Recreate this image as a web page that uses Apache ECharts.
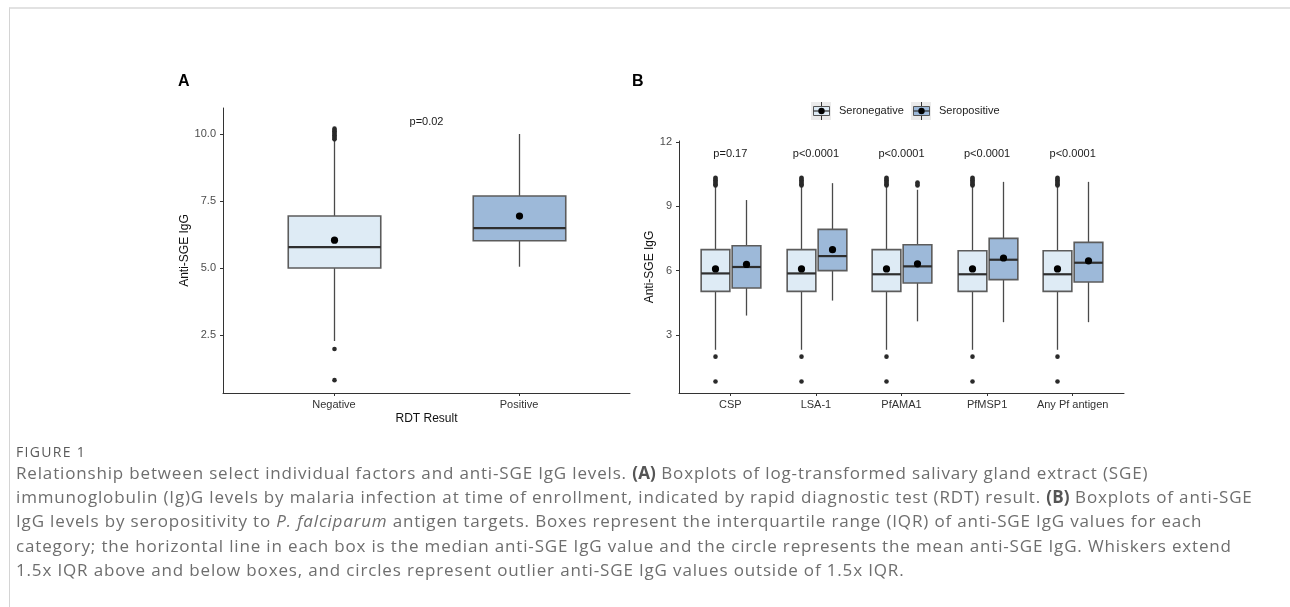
<!DOCTYPE html>
<html>
<head>
<meta charset="utf-8">
<script src="https://cdn.jsdelivr.net/npm/echarts@6/dist/echarts.min.js"></script>
<style>
html,body{margin:0;padding:0;background:#fff;}
#wrap{position:relative;width:1290px;height:607px;overflow:hidden;background:#fff;}
#frame{position:absolute;left:9px;top:7px;right:-5px;bottom:-5px;border-top:2px solid #e2e2e2;border-left:1px solid #d4d4d4;}
#chart{position:absolute;left:0;top:0;width:1290px;height:607px;}
#cap{position:absolute;left:16px;top:0;font-family:"Open Sans",sans-serif;color:#6e6e6e;}
#cap .fig{position:absolute;left:0;top:444px;font-size:14px;line-height:16px;letter-spacing:1.3px;white-space:nowrap;color:#5a5a5a;}
#cap .ln{position:absolute;left:0;font-size:17px;letter-spacing:0.84px;line-height:24px;height:24px;white-space:nowrap;}
#cap b{font-weight:700;color:#555;letter-spacing:0.2px;}
</style>
</head>
<body>
<div id="wrap">
  <div id="frame"></div>
  <div id="chart"></div>
  <div id="cap">
    <div class="fig">FIGURE 1</div>
    <div class="ln" style="top:461px">Relationship between select individual factors and anti-SGE IgG levels. <b>(A)</b> Boxplots of log-transformed salivary gland extract (SGE)</div>
    <div class="ln" style="top:485px">immunoglobulin (Ig)G levels by malaria infection at time of enrollment, indicated by rapid diagnostic test (RDT) result. <b>(B)</b> Boxplots of anti-SGE</div>
    <div class="ln" style="top:509px">IgG levels by seropositivity to <i>P. falciparum</i> antigen targets. Boxes represent the interquartile range (IQR) of anti-SGE IgG values for each</div>
    <div class="ln" style="top:534px">category; the horizontal line in each box is the median anti-SGE IgG value and the circle represents the mean anti-SGE IgG. Whiskers extend</div>
    <div class="ln" style="top:558px">1.5x IQR above and below boxes, and circles represent outlier anti-SGE IgG values outside of 1.5x IQR.</div>
  </div>
</div>
<script>
// ---------------- Panel A data ----------------
const catA = ['Negative', 'Positive'];
const aLo   = [2.28, 5.05];
const aQ1   = [5.00, 6.02];
const aMed  = [5.78, 6.49];
const aQ3   = [6.94, 7.69];
const aHi   = [9.78, 10.00];
const aMean = [6.04, 6.94];
const aOutNeg = [0.82, 1.98, 9.80, 9.85, 9.90, 9.95, 10.00, 10.05, 10.10, 10.15, 10.20];
const aOutPos = [];
const aTicks = [2.5, 5.0, 7.5, 10.0];
const aPLabel = 'p=0.02';

// ---------------- Panel B data ----------------
const catB = ['CSP', 'LSA-1', 'PfAMA1', 'PfMSP1', 'Any Pf antigen'];
const negLo   = [2.30, 2.30, 2.30, 2.30, 2.30];
const negQ1   = [5.03, 5.03, 5.03, 5.03, 5.03];
const negMed  = [5.87, 5.87, 5.83, 5.83, 5.83];
const negQ3   = [6.98, 6.98, 6.98, 6.93, 6.93];
const negHi   = [9.95, 9.95, 9.95, 9.95, 9.95];
const negMean = [6.08, 6.08, 6.08, 6.08, 6.08];
const posLo   = [3.90, 4.60, 3.63, 3.59, 3.59];
const posQ1   = [5.19, 6.00, 5.42, 5.58, 5.47];
const posMed  = [6.17, 6.68, 6.20, 6.51, 6.37];
const posQ3   = [7.16, 7.93, 7.21, 7.51, 7.32];
const posHi   = [9.30, 10.09, 9.78, 10.15, 10.15];
const posMean = [6.29, 6.98, 6.32, 6.59, 6.46];
const negOutliers = [
  [0.82, 1.98, 9.98, 10.04, 10.10, 10.16, 10.22, 10.28, 10.34],
  [0.82, 1.98, 9.98, 10.04, 10.10, 10.16, 10.22, 10.28, 10.34],
  [0.82, 1.98, 9.98, 10.04, 10.10, 10.16, 10.22, 10.28, 10.34],
  [0.82, 1.98, 9.98, 10.04, 10.10, 10.16, 10.22, 10.28, 10.34],
  [0.82, 1.98, 9.98, 10.04, 10.10, 10.16, 10.22, 10.28, 10.34]
];
const posOutliers = [[], [], [9.98, 10.05, 10.12], [], []];
const bTicks = [3, 6, 9, 12];
const bPLabels = ['p=0.17', 'p<0.0001', 'p<0.0001', 'p<0.0001', 'p<0.0001'];
const legendNames = ['Seronegative', 'Seropositive'];

// ---------------- styles ----------------
const FONT = '"Liberation Sans", Arial, sans-serif';
const FILL_NEG = '#deebf5';
const FILL_POS = '#9db9d9';
const BOX_STROKE = '#5c5c5c';
const WHISK = '#4a4a4a';
const MED = '#2e2e2e';

function boxRows(lo, q1, med, q3, hi, mean) {
  return lo.map((v, i) => [i + 1, lo[i], q1[i], med[i], q3[i], hi[i], mean[i]]);
}
function outRows(list) {
  const rows = [];
  list.forEach((vals, i) => vals.forEach(v => rows.push([i + 1, v])));
  return rows;
}

function boxRender(offset, widthU, fill) {
  return function (params, api) {
    const x = api.value(0) + offset;
    const lo = api.coord([x, api.value(1)]);
    const q1 = api.coord([x, api.value(2)]);
    const md = api.coord([x, api.value(3)]);
    const q3 = api.coord([x, api.value(4)]);
    const hi = api.coord([x, api.value(5)]);
    const mn = api.coord([x, api.value(6)]);
    const w = api.size([widthU, 0])[0];
    const cx = Math.round(lo[0]) + 0.5;
    return {
      type: 'group',
      children: [
        { type: 'line', shape: { x1: cx, y1: hi[1], x2: cx, y2: q3[1] }, style: { stroke: WHISK, lineWidth: 1.3 } },
        { type: 'line', shape: { x1: cx, y1: q1[1], x2: cx, y2: lo[1] }, style: { stroke: WHISK, lineWidth: 1.3 } },
        { type: 'rect', shape: { x: cx - w / 2, y: q3[1], width: w, height: q1[1] - q3[1] },
          style: { fill: fill, stroke: BOX_STROKE, lineWidth: 1.6 } },
        { type: 'line', shape: { x1: cx - w / 2, y1: md[1], x2: cx + w / 2, y2: md[1] }, style: { stroke: MED, lineWidth: 2.2 } },
        { type: 'circle', shape: { cx: cx, cy: mn[1], r: 3.6 }, style: { fill: '#000' } }
      ]
    };
  };
}
function outRender(offset) {
  return function (params, api) {
    const p = api.coord([api.value(0) + offset, api.value(1)]);
    return { type: 'circle', shape: { cx: Math.round(p[0]) + 0.5, cy: p[1], r: 2.3 }, style: { fill: '#2a2a2a' } };
  };
}
function textRender(labels, yVal) {
  return function (params, api) {
    const p = api.coord([api.value(0), yVal]);
    return { type: 'text', style: { text: labels[params.dataIndex], x: p[0], y: p[1], align: 'center', verticalAlign: 'middle',
      font: '11px ' + FONT, fill: '#1a1a1a' } };
  };
}

const axisLineStyle = { color: '#333', width: 1 };

const option = {
  animation: false,
  backgroundColor: 'transparent',
  title: [
    { text: 'A', left: 178, top: 74, padding: 0, textStyle: { fontFamily: FONT, fontSize: 16, fontWeight: 'bold', color: '#000' } },
    { text: 'B', left: 632, top: 74, padding: 0, textStyle: { fontFamily: FONT, fontSize: 16, fontWeight: 'bold', color: '#000' } }
  ],
  grid: [
    { left: 223, top: 108, width: 407, height: 285 },
    { left: 679, top: 141, width: 445, height: 252 }
  ],
  xAxis: [
    {
      gridIndex: 0, type: 'value', min: 0.4, max: 2.6,
      name: 'RDT Result', nameLocation: 'middle', nameGap: 20,
      nameTextStyle: { fontFamily: FONT, fontSize: 12, color: '#111' },
      axisLine: { show: true, onZero: false, lineStyle: axisLineStyle },
      axisTick: { show: true, length: 3, customValues: [1, 2], lineStyle: axisLineStyle },
      axisLabel: { customValues: [1, 2], margin: 6, fontFamily: FONT, fontSize: 11, color: '#333',
        formatter: v => catA[Math.round(v) - 1] },
      splitLine: { show: false }
    },
    {
      gridIndex: 1, type: 'value', min: 0.4, max: 5.6,
      axisLine: { show: true, onZero: false, lineStyle: axisLineStyle },
      axisTick: { show: true, length: 3, customValues: [1, 2, 3, 4, 5], lineStyle: axisLineStyle },
      axisLabel: { customValues: [1, 2, 3, 4, 5], margin: 6, fontFamily: FONT, fontSize: 11, color: '#333',
        formatter: v => catB[Math.round(v) - 1] },
      splitLine: { show: false }
    }
  ],
  yAxis: [
    {
      gridIndex: 0, type: 'value', min: 0.34, max: 10.97,
      name: 'Anti-SGE IgG', nameLocation: 'middle', nameGap: 31, nameRotate: 90,
      nameTextStyle: { fontFamily: FONT, fontSize: 12, color: '#111' },
      axisLine: { show: true, onZero: false, lineStyle: axisLineStyle },
      axisTick: { show: true, length: 3, customValues: aTicks, lineStyle: axisLineStyle },
      axisLabel: { customValues: aTicks, margin: 7, fontFamily: FONT, fontSize: 11, color: '#4d4d4d',
        formatter: v => v.toFixed(1) },
      splitLine: { show: false }
    },
    {
      gridIndex: 1, type: 'value', min: 0.28, max: 12.06,
      name: 'Anti-SGE IgG', nameLocation: 'middle', nameGap: 20, nameRotate: 90,
      nameTextStyle: { fontFamily: FONT, fontSize: 12, color: '#111' },
      axisLine: { show: true, onZero: false, lineStyle: axisLineStyle },
      axisTick: { show: true, length: 3, customValues: bTicks, lineStyle: axisLineStyle },
      axisLabel: { customValues: bTicks, margin: 7, fontFamily: FONT, fontSize: 11, color: '#4d4d4d',
        formatter: v => String(v) },
      splitLine: { show: false }
    }
  ],
  series: [
    // Panel A
    { type: 'custom', xAxisIndex: 0, yAxisIndex: 0, clip: false,
      data: boxRows(aLo, aQ1, aMed, aQ3, aHi, aMean),
      renderItem: function (params, api) {
        return boxRender(0, 0.5, params.dataIndex === 0 ? FILL_NEG : FILL_POS)(params, api);
      } },
    { type: 'custom', xAxisIndex: 0, yAxisIndex: 0, clip: false, data: outRows([aOutNeg, aOutPos]), renderItem: outRender(0) },
    { type: 'custom', xAxisIndex: 0, yAxisIndex: 0, clip: false, data: [[1.5]], renderItem: function (params, api) {
        const p = api.coord([api.value(0), 10.45]);
        return { type: 'text', style: { text: aPLabel, x: p[0], y: p[1], align: 'center', verticalAlign: 'middle',
          font: '11px ' + FONT, fill: '#1a1a1a' } };
      } },
    // Panel B
    { type: 'custom', name: legendNames[0], xAxisIndex: 1, yAxisIndex: 1, clip: false,
      data: boxRows(negLo, negQ1, negMed, negQ3, negHi, negMean), renderItem: boxRender(-0.18, 0.335, FILL_NEG) },
    { type: 'custom', name: legendNames[1], xAxisIndex: 1, yAxisIndex: 1, clip: false,
      data: boxRows(posLo, posQ1, posMed, posQ3, posHi, posMean), renderItem: boxRender(0.185, 0.335, FILL_POS) },
    { type: 'custom', xAxisIndex: 1, yAxisIndex: 1, clip: false, data: outRows(negOutliers), renderItem: outRender(-0.18) },
    { type: 'custom', xAxisIndex: 1, yAxisIndex: 1, clip: false, data: outRows(posOutliers), renderItem: outRender(0.185) },
    { type: 'custom', xAxisIndex: 1, yAxisIndex: 1, clip: false, data: catB.map((c, i) => [i + 1]),
      renderItem: textRender(bPLabels, 11.44) }
  ],
  graphic: [
    { type: 'group', x: 811, y: 102, children: [
      { type: 'rect', shape: { x: 0, y: 0, width: 20, height: 18 }, style: { fill: '#ebebeb' } },
      { type: 'line', shape: { x1: 10.5, y1: 0, x2: 10.5, y2: 18 }, style: { stroke: '#333', lineWidth: 1 } },
      { type: 'rect', shape: { x: 2.5, y: 4.5, width: 16, height: 9 }, style: { fill: FILL_NEG, stroke: '#555', lineWidth: 1 } },
      { type: 'line', shape: { x1: 2.5, y1: 9, x2: 18.5, y2: 9 }, style: { stroke: '#333', lineWidth: 1.2 } },
      { type: 'circle', shape: { cx: 10.5, cy: 9, r: 3.2 }, style: { fill: '#000' } }
    ] },
    { type: 'text', x: 839, y: 111, style: { text: legendNames[0], font: '11px ' + FONT, fill: '#222', verticalAlign: 'middle' } },
    { type: 'group', x: 911, y: 102, children: [
      { type: 'rect', shape: { x: 0, y: 0, width: 20, height: 18 }, style: { fill: '#ebebeb' } },
      { type: 'line', shape: { x1: 10.5, y1: 0, x2: 10.5, y2: 18 }, style: { stroke: '#333', lineWidth: 1 } },
      { type: 'rect', shape: { x: 2.5, y: 4.5, width: 16, height: 9 }, style: { fill: FILL_POS, stroke: '#555', lineWidth: 1 } },
      { type: 'line', shape: { x1: 2.5, y1: 9, x2: 18.5, y2: 9 }, style: { stroke: '#333', lineWidth: 1.2 } },
      { type: 'circle', shape: { cx: 10.5, cy: 9, r: 3.2 }, style: { fill: '#000' } }
    ] },
    { type: 'text', x: 939, y: 111, style: { text: legendNames[1], font: '11px ' + FONT, fill: '#222', verticalAlign: 'middle' } }
  ]
};

const chart = echarts.init(document.getElementById('chart'), null, { renderer: 'canvas' });
chart.setOption(option);
</script>
</body>
</html>
